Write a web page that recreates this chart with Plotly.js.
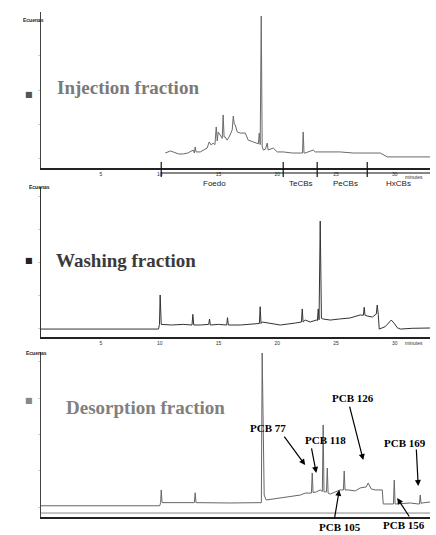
<!DOCTYPE html>
<html><head><meta charset="utf-8">
<script src="https://cdn.plot.ly/plotly-3.0.1.min.js"></script>
<style>html,body{margin:0;padding:0;background:#fff}#chart{width:436px;height:535px}</style>
</head><body><div id="chart"></div>
<script>
// ---- Data (retention time in minutes, relative abundance 0-100) ----
const injTime = [10.47,10.9,11.15,11.6,12.0,12.4,12.85,12.95,13.02,13.1,13.45,13.8,14.04,14.21,14.38,14.55,14.7,14.81,14.9,14.98,15.15,15.32,15.40,15.48,15.57,15.74,15.91,16.05,16.17,16.26,16.35,16.43,16.60,16.85,17.28,17.53,17.96,18.30,18.40,18.47,18.55,18.64,18.72,18.81,19.0,19.15,19.23,19.66,20.0,20.51,21.28,21.96,22.15,22.21,22.28,22.38,23.06,23.23,24.26,25.36,26.47,27.66,28.77,29.36,33.0];
const injAbund = [9.6,10.9,10.3,9.0,9.0,9.6,11.5,9.6,13.5,10.3,10.3,11.5,12.8,16.7,14.7,16.0,15.0,26.3,17.3,23.1,21.2,19.0,34.0,19.9,19.9,17.9,19.9,22.0,24.4,33.3,28.0,27.6,23.1,22.4,22.4,17.9,16.7,16.0,15.5,22.4,15.0,97.4,14.0,11.5,12.0,16.0,11.5,12.8,10.3,10.3,9.6,9.6,9.6,23.1,9.6,9.6,11.5,10.3,10.3,10.3,9.6,9.6,9.6,7.1,7.1];

const washTime = [-0.1,9.9,9.98,10.04,10.13,11.0,12.0,12.75,12.82,12.9,13.45,14.17,14.24,14.31,15.0,15.70,15.77,15.84,16.85,18.13,18.48,18.55,18.62,18.72,20.26,21.53,22.06,22.13,22.2,22.38,22.81,23.32,23.42,23.49,23.56,23.66,23.76,23.91,24.51,25.3,26.21,27.06,27.33,27.40,27.47,27.66,28.09,28.43,28.51,28.60,28.68,29.19,29.45,29.70,29.96,30.21,30.47,31.5,33.0];
const washAbund = [5.3,5.3,8.4,28.0,8.4,8.0,8.4,8.0,15.1,8.0,8.0,8.4,12.0,8.0,8.4,8.0,12.9,8.0,8.0,8.7,9.0,20.2,9.0,10.0,8.0,9.3,10.0,18.7,10.0,11.3,10.0,11.3,11.0,18.7,11.5,77.3,12.5,12.0,11.3,12.0,12.7,14.7,14.5,19.8,14.5,14.0,13.3,15.3,21.3,15.0,5.3,6.9,9.1,11.3,9.1,6.2,5.3,5.8,6.0];

const desTime = [-0.1,10.0,10.08,10.13,10.2,10.47,12.0,12.95,13.02,13.09,16.0,18.65,18.72,18.89,19.06,20.26,21.11,21.96,22.38,22.81,22.91,22.98,23.05,23.32,23.66,23.84,23.91,23.98,24.09,24.19,24.26,24.33,24.51,24.94,25.36,25.63,25.70,25.77,26.04,26.64,27.06,27.57,27.74,28.0,28.34,28.94,29.02,29.62,29.89,29.96,30.03,30.13,31.32,32.0,32.1,32.17,32.24,32.34,33.0];
const desAbund = [6.8,6.8,8.7,16.4,8.7,8.7,8.5,8.7,14.7,8.7,8.5,8.7,99.4,13.3,10.3,11.5,12.1,13.3,14.5,14.5,14.5,26.7,14.8,15.2,16.4,15.5,55.8,15.2,15.2,15.2,29.7,14.5,13.9,15.2,16.4,16.4,27.9,16.4,16.4,15.8,17.6,18.2,20.6,17.0,16.4,16.4,7.9,7.9,7.9,22.4,7.9,7.9,8.5,7.9,7.9,13.3,8.2,8.5,9.1];

const tickVals = [5,10,15,20,25,30];
const tickText = ['5','10','15','20','25','30'];
const groupBounds = [10.13,20.51,23.4,27.66];
const groupNames = ['Foedo','TeCBs','PeCBs','HxCBs'];
const groupLabelTime = [14.7,22.0,25.8,30.3];
const pcbNames = ['PCB 77','PCB 118','PCB 126','PCB 169','PCB 105','PCB 156'];
const pcbTime = [22.38,23.32,27.32,32.0,25.28,30.21];
const pcbAbund = [31.5,26.7,34.5,18.8,16.4,11.5];
const panelTitles = ['Injection fraction','Washing fraction','Desorption fraction'];

// ---- Layout helpers ----
const W = 436, H = 535;
const py = p => 1 - p / H;
const xRange = [-0.1, 33.0];
const xDom = [41 / W, 430 / W];

function xa(showLabels) {
  return {domain: xDom, range: xRange, showgrid: false, zeroline: false, showline: true,
    linecolor: '#222', linewidth: 1.5, ticks: '', tickvals: tickVals, ticktext: tickText,
    showticklabels: showLabels, tickfont: {family: 'Liberation Sans', size: 5, color: '#333'}, fixedrange: true};
}
function ya(top, bottom, lc) {
  return {domain: [py(bottom), py(top)], range: [0, 100], showgrid: false, zeroline: false,
    showline: true, linecolor: lc, linewidth: 1.5, ticks: 'outside', ticklen: 2, tickcolor: '#ccc',
    tickvals: [6, 28, 50, 72, 94], showticklabels: false, fixedrange: true};
}

const traces = [
  {x: injTime, y: injAbund, xaxis: 'x', yaxis: 'y', mode: 'lines', line: {color: '#6a6a6a', width: 1}},
  {x: washTime, y: washAbund, xaxis: 'x2', yaxis: 'y2', mode: 'lines', line: {color: '#333', width: 1}},
  {x: desTime, y: desAbund, xaxis: 'x3', yaxis: 'y3', mode: 'lines', line: {color: '#666', width: 1}}
];

const shapes = [];
const annotations = [];

// bracket of compound groups under panel 1
shapes.push({type: 'line', xref: 'x', yref: 'paper', x0: groupBounds[0], x1: xRange[1], y0: py(173), y1: py(173), line: {color: '#111', width: 1.2}});
groupBounds.forEach(b => shapes.push({type: 'line', xref: 'x', yref: 'paper', x0: b, x1: b, y0: py(162), y1: py(177), line: {color: '#111', width: 1.2}}));
groupNames.forEach((n, i) => annotations.push({xref: 'x', yref: 'paper', x: groupLabelTime[i], y: py(183), text: n, showarrow: false,
  font: {family: 'Liberation Sans', size: 8, color: '#222'}}));

// second thin line in panel 3
shapes.push({type: 'line', xref: 'x3 domain', yref: 'y3', x0: 0, x1: 1, y0: 2.4, y1: 2.4, line: {color: '#888', width: 1}});

// minutes labels
[172, 343].forEach(yy => annotations.push({xref: 'paper', yref: 'paper', x: 425 / W, y: py(yy), text: 'minutes', showarrow: false,
  font: {family: 'Liberation Sans', size: 5, color: '#333'}}));

// y-axis labels
[[21, 15], [27, 187], [24, 353]].forEach(p => annotations.push({xref: 'paper', yref: 'paper', x: p[0] / W, y: py(p[1]), text: '<b>Ecuenas</b>', showarrow: false,
  font: {family: 'Liberation Sans', size: 5, color: '#222'}}));

// panel titles and bullets
const titleStyle = [{x: 55, y: 88, c: '#7a7a7a', b: '#555'}, {x: 54, y: 260, c: '#3a3a3a', b: '#222'}, {x: 64, y: 407, c: '#808080', b: '#888'}];
panelTitles.forEach((t, i) => {
  const s = titleStyle[i];
  annotations.push({xref: 'paper', yref: 'paper', x: s.x / W, y: py(s.y), xanchor: 'left', yanchor: 'middle', text: '<b>' + t + '</b>', showarrow: false,
    font: {family: 'Liberation Serif', size: 19, color: s.c}});
  annotations.push({xref: 'paper', yref: 'paper', x: 23 / W, y: py(s.y), text: '■', showarrow: false,
    font: {family: 'DejaVu Sans', size: 8, color: s.b}});
});

// PCB labels: text offset (xshift, yshift) and arrow tail offset (ax, ay) from arrow head, in pixels
const pcbOffsets = [[-37, 37, -22, -30], [9, 33, -5, -26], [-10, 62, -14, -55], [-13, 43, -2, -38], [1, -37, -5, 30], [7, -27, 13, 20]];
pcbNames.forEach((n, i) => {
  const o = pcbOffsets[i];
  annotations.push({xref: 'x3', yref: 'y3', x: pcbTime[i], y: pcbAbund[i], text: '<b>' + n + '</b>', showarrow: false,
    xshift: o[0], yshift: o[1], font: {family: 'Liberation Serif', size: 11, color: '#000'}});
  annotations.push({xref: 'x3', yref: 'y3', x: pcbTime[i], y: pcbAbund[i], text: '', showarrow: true, ax: o[2], ay: o[3],
    arrowhead: 2, arrowsize: 1, arrowwidth: 1.2, arrowcolor: '#000', standoff: 0, startstandoff: 0});
});

const layout = {
  width: W, height: H, margin: {l: 0, r: 0, t: 0, b: 0},
  paper_bgcolor: '#fff', plot_bgcolor: '#fff', showlegend: false, hovermode: false,
  xaxis: Object.assign(xa(true), {anchor: 'y'}),
  yaxis: Object.assign(ya(12, 168, '#444'), {anchor: 'x'}),
  xaxis2: Object.assign(xa(true), {anchor: 'y2'}),
  yaxis2: Object.assign(ya(187, 337, '#333'), {anchor: 'x2'}),
  xaxis3: Object.assign(xa(false), {anchor: 'y3'}),
  yaxis3: Object.assign(ya(352, 517, '#444'), {anchor: 'x3'}),
  shapes: shapes, annotations: annotations
};
Plotly.newPlot('chart', traces, layout, {displayModeBar: false, staticPlot: true});
</script></body></html>
